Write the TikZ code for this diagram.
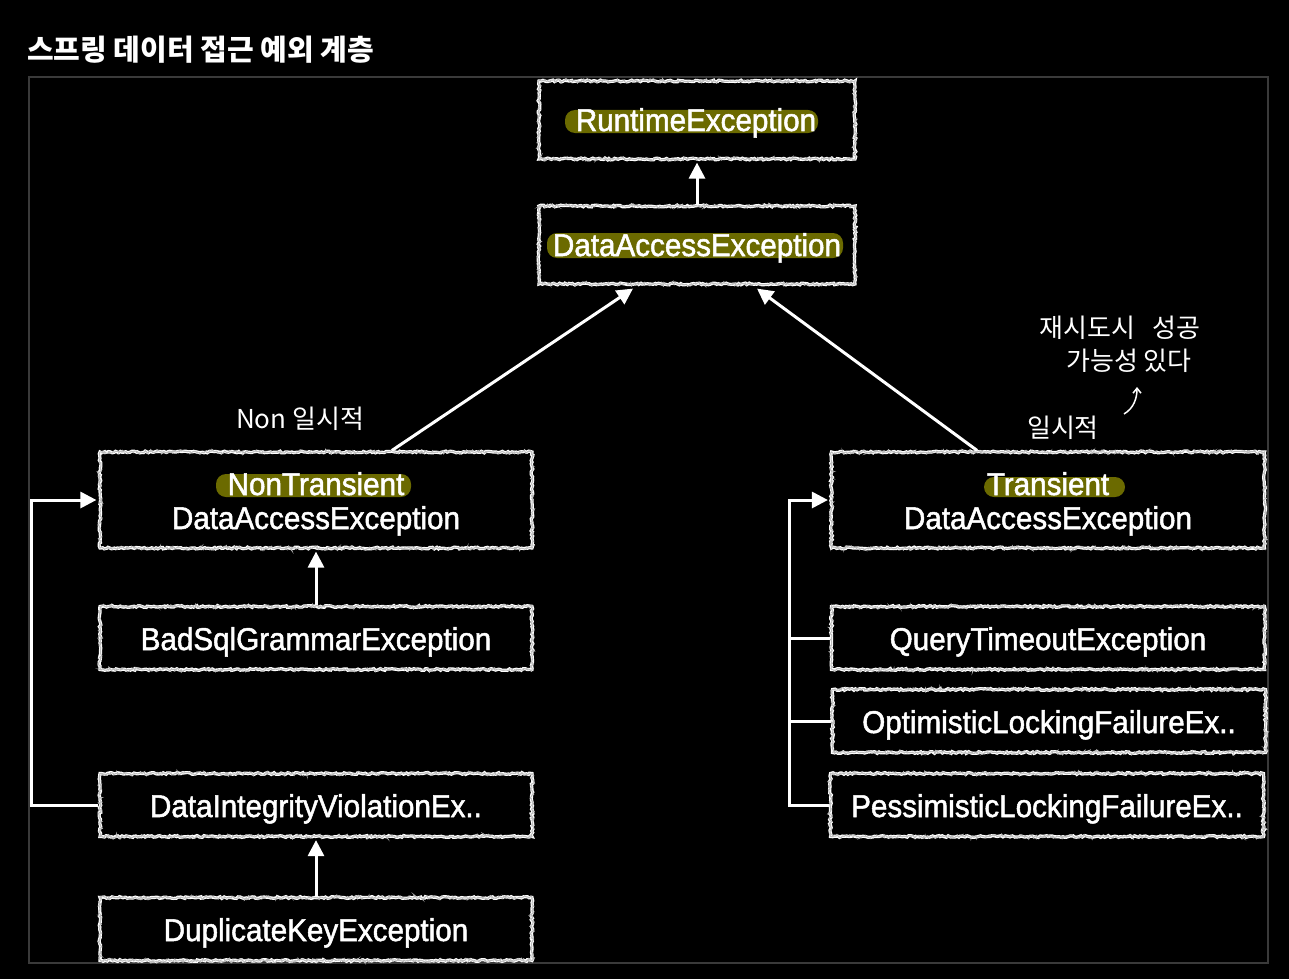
\documentclass[tikz,border=0pt]{standalone}
\usepackage{fontspec}
\setmainfont{Liberation Sans}
\newfontfamily\boxfont[FakeBold=1.6,FakeStretch=0.94]{Liberation Sans}
\newfontfamily\kr{Noto Sans CJK KR}
\usetikzlibrary{arrows.meta,decorations.pathmorphing}
\definecolor{pillc}{HTML}{6B6A00}
\definecolor{framec}{HTML}{3A3A3A}
\begin{document}
\begin{tikzpicture}[x=1pt,y=-1pt,
 box/.style={draw=white, fill=black, line width=3.2pt, decorate,
   decoration={random steps, segment length=2pt, amplitude=0.9pt}, inner sep=0pt,
   postaction={draw=white!75!black, line width=1pt, decorate,
   decoration={random steps, segment length=1.2pt, amplitude=1.8pt}}},
 lbl/.style={text=white, font=\boxfont\fontsize{31.5}{34}\selectfont, inner sep=0pt, anchor=base},
 pill/.style={fill=pillc, rounded corners=10pt},
 conn/.style={draw=white, line width=3pt},
 arr/.style={conn, -{Triangle[width=16pt,length=16pt]}},
 hand/.style={text=white, font=\kr\fontsize{26}{28}\selectfont, inner sep=0pt}
]
\pgfmathsetseed{7}
\fill[black] (0,0) rectangle (1289,979);
\useasboundingbox (0,0) rectangle (1289,979);
\draw[framec, line width=2pt] (29,77) rectangle (1268,963);
\node[anchor=west, text=white, font=\kr\bfseries\fontsize{29}{32}\selectfont, inner sep=0pt] (title) at (27,50) {스프링 데이터 접근 예외 계층};

% boxes
\node[box, minimum width=316pt, minimum height=78pt] (rt) at (697,120) {};
\node[box, minimum width=316pt, minimum height=78pt] (dae) at (697,245) {};
\node[box, minimum width=432pt, minimum height=96pt] (nt) at (316,500) {};
\node[box, minimum width=432pt, minimum height=63pt] (bad) at (316,638) {};
\node[box, minimum width=432pt, minimum height=63pt] (div) at (316,805) {};
\node[box, minimum width=432pt, minimum height=63pt] (dup) at (316,929) {};
\node[box, minimum width=433pt, minimum height=96pt] (tr) at (1048,500) {};
\node[box, minimum width=433pt, minimum height=63pt] (qt) at (1048,638) {};
\node[box, minimum width=433pt, minimum height=63pt] (opt) at (1049,721) {};
\node[box, minimum width=433pt, minimum height=63pt] (pes) at (1047,805) {};

% highlights
\fill[pill] (565,110) rectangle (818,133);
\fill[pill] (547,233) rectangle (843,258);
\fill[pill] (216,474) rectangle (411,497);
\fill[pill] (984,477) rectangle (1125,497);

% labels
\node[lbl] (rtt) at (696,131) {RuntimeException};
\node[lbl] (daet) at (697,256) {DataAccessException};
\node[lbl] (ntt1) at (316,495) {NonTransient};
\node[lbl] (ntt2) at (316,529) {DataAccessException};
\node[lbl] (trt1) at (1048,495) {Transient};
\node[lbl] (trt2) at (1048,529) {DataAccessException};
\node[lbl] (badt) at (316,650) {BadSqlGrammarException};
\node[lbl] (divt) at (316,817) {DataIntegrityViolationEx..};
\node[lbl] (dupt) at (316,941) {DuplicateKeyException};
\node[lbl] (qtt) at (1048,650) {QueryTimeoutException};
\node[lbl] (optt) at (1049,733) {OptimisticLockingFailureEx..};
\node[lbl] (pest) at (1047,817) {PessimisticLockingFailureEx..};

% connectors
\draw[arr, shorten >=2pt] (dae.north) -- (rt.south);
\draw[arr] ([xshift=76pt]nt.north) -- ([xshift=-64pt,yshift=-3pt]dae.south);
\draw[arr] ([xshift=-71pt]tr.north) -- ([xshift=60pt,yshift=-3pt]dae.south);
\draw[arr, shorten >=2pt] (bad.north) -- (nt.south);
\draw[arr, shorten >=2pt] (dup.north) -- (div.south);
\coordinate (lbus) at (31,805);
\draw[arr, shorten >=2pt] (div.west) -- (lbus) |- (nt.west);
\coordinate (rbus) at (789,805);
\draw[arr, shorten >=2pt] (pes.west) -- (rbus) |- (tr.west);
\draw[conn] (qt.west) -- (qt.west -| rbus);
\draw[conn] (opt.west) -- (opt.west -| rbus);

% handwritten notes
\node[hand] (n1) at (300,419) {Non 일시적};
\node[hand] (n2) at (1063,428) {일시적};
\node[hand] (n3) at (1120,328) {재시도시\hspace{18pt}성공};
\node[hand] (n4) at (1129,361) {가능성 있다};
\coordinate (a0) at (1124,414);
\coordinate (a1) at (1137,387);
\draw[white, line width=1.5pt, -{Straight Barb[length=5pt,width=8pt]}] (a0) .. controls (1134,408) and (1137,398) .. (a1);
\end{tikzpicture}
\end{document}
